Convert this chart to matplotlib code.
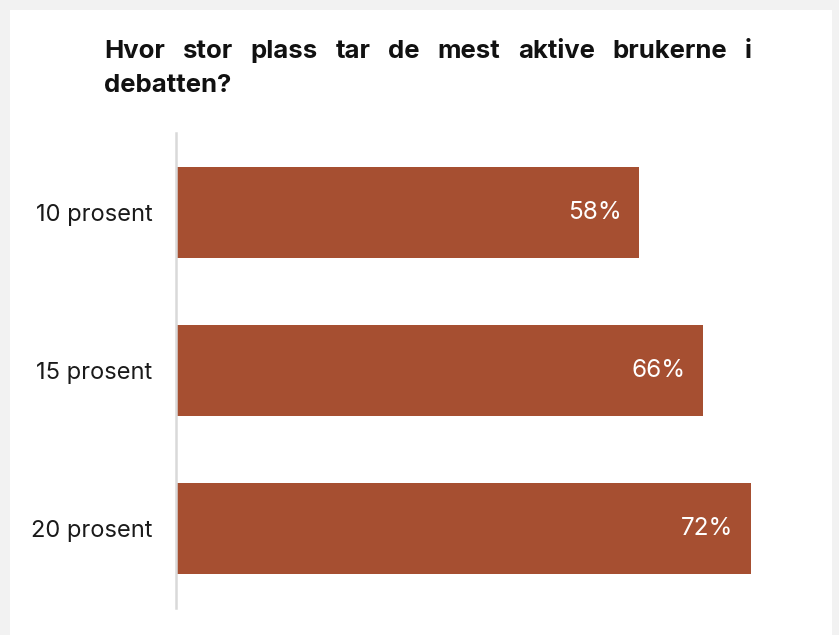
import matplotlib.pyplot as plt
from matplotlib.patches import Rectangle

categories = ["10 prosent", "15 prosent", "20 prosent"]
values = [58, 66, 72]
title_line1 = "Hvor stor plass tar de mest aktive brukerne i"
title_line2 = "debatten?"

W, H = 839, 635
fig = plt.figure(figsize=(W / 100, H / 100), dpi=100)
fig.patch.set_facecolor("#f2f2f2")
fig.patches.append(Rectangle((10 / W, 0), (832 - 10) / W, (H - 10) / H,
                             transform=fig.transFigure, facecolor="white",
                             edgecolor="none", zorder=-5))

ax = fig.add_axes([176 / W, (H - 608) / H, 624 / W, (608 - 133) / H])
ax.set_zorder(2)
ax.set_facecolor("none")
ypos = list(range(len(categories)))
ax.barh(ypos, values, height=0.574, color="#a64f31")
ax.set_xlim(0, 78.2)
ax.set_ylim(2.5, -0.5)
for s in ["top", "right", "bottom"]:
    ax.spines[s].set_visible(False)
ax.spines["left"].set_color("#d9d9d9")
ax.spines["left"].set_linewidth(1.8)
ax.set_xticks([])
ax.set_yticks(ypos)
ax.set_yticklabels(categories, fontsize=17, color="#1a1a1a", family="Inter")
ax.tick_params(axis="y", length=0, pad=17)

for y, v in zip(ypos, values):
    ax.annotate(f"{v}%", (v, y), xytext=(-12.5, 0), textcoords="offset points",
                ha="right", va="center", color="white", fontsize=17.5,
                family="Inter")

# justified title, first line
fig.canvas.draw()
r = fig.canvas.get_renderer()
words = title_line1.split()
x0, x1 = 104, 752
fs = 18.5
tmp = [fig.text(0, 0, w, fontsize=fs, fontweight="bold", family="Inter") for w in words]
widths = [t.get_window_extent(r).width for t in tmp]
for t in tmp:
    t.remove()
gap = (x1 - x0 - sum(widths)) / (len(words) - 1)
x = x0
for w, wd in zip(words, widths):
    fig.text(x / W, 1 - 58 / H, w, fontsize=fs, fontweight="bold",
             family="Inter", color="#111111", va="baseline")
    x += wd + gap
fig.text(x0 / W, 1 - 92 / H, title_line2, fontsize=fs, fontweight="bold",
         family="Inter", color="#111111", va="baseline")

fig.savefig("out.png", dpi=100)
